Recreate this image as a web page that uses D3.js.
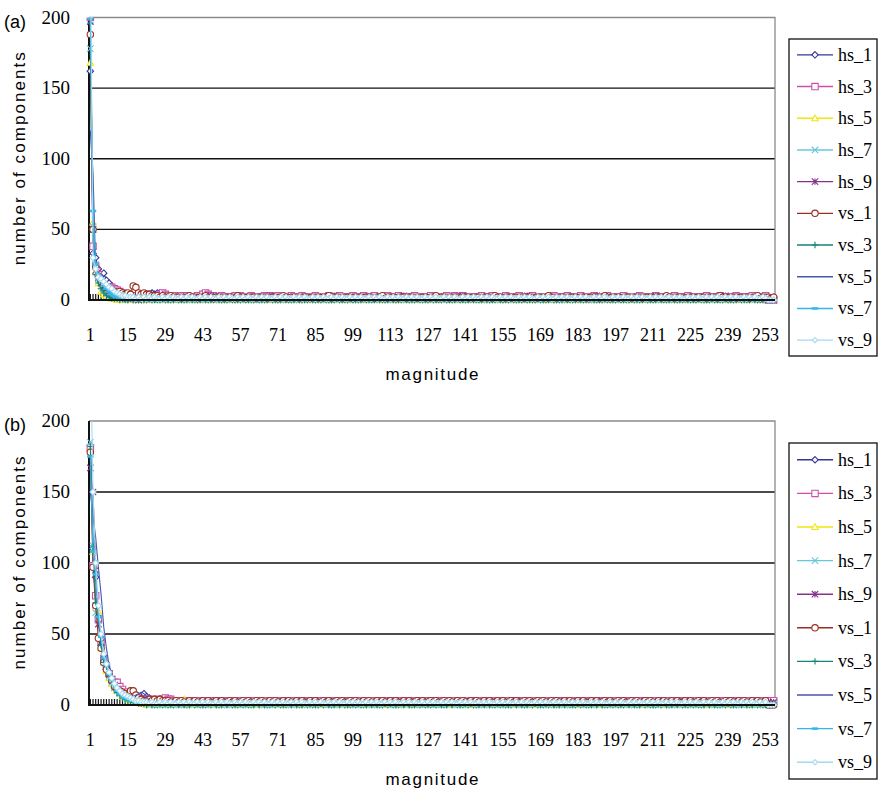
<!DOCTYPE html>
<html>
<head>
<meta charset="utf-8">
<script src="https://cdn.jsdelivr.net/npm/d3@7"></script>
<style>
body { margin: 0; background: white; }
svg { display: block; }
.serif { font-family: "Liberation Serif", "DejaVu Serif", Times, serif; }
.sans { font-family: "Liberation Sans", Arial, sans-serif; }
</style>
</head>
<body>
<svg id="chart"></svg>
<script>
var W = 879;
var H = 795;

// categories on the x axis (magnitude 1..256) and the labelled ones
var magnitudes = d3.range(1, 257);
var xTickLabels = [1, 15, 29, 43, 57, 71, 85, 99, 113, 127, 141, 155, 169, 183, 197, 211, 225, 239, 253];
var yTicks = [0, 50, 100, 150, 200];

var seriesNames = ["hs_1", "hs_3", "hs_5", "hs_7", "hs_9", "vs_1", "vs_3", "vs_5", "vs_7", "vs_9"];
var seriesColors = ["#34349a", "#cc4fae", "#f0e612", "#66c8dc", "#86328a", "#9a2e22", "#138577", "#4656ae", "#30b8ec", "#a4daee"];
var seriesMarkers = ["diamond", "square", "triangle", "x", "star", "circle", "plus", "none", "dash", "diamond"];

// panel (a): counts for magnitude 1..20, then one digit per magnitude from 21 on
var a_hs_1 = [162, 33, 30, 22, 17, 19, 14, 12, 10, 8, 7, 6, 5, 4, 3, 3, 2, 2, 2, 1];
var a_hs_3 = [200, 38, 24, 18, 13, 10, 8, 9, 9, 8, 7, 6, 5, 4, 4, 3, 3, 3, 2, 2];
var a_hs_5 = [168, 55, 20, 12, 6, 4, 3, 2, 1, 1, 0, 1, 0, 0, 1, 0, 0, 0, 1, 0];
var a_hs_7 = [178, 52, 25, 15, 10, 7, 5, 3, 2, 2, 1, 1, 1, 0, 1, 0, 1, 0, 0, 1];
var a_hs_9 = [197, 50, 21, 16, 12, 9, 8, 6, 5, 4, 3, 2, 2, 1, 1, 2, 1, 1, 0, 1];
var a_vs_1 = [188, 50, 23, 17, 13, 11, 9, 8, 7, 6, 5, 6, 5, 4, 5, 4, 10, 9, 5, 4];
var a_vs_3 = [196, 48, 18, 12, 8, 5, 3, 2, 1, 1, 1, 0, 1, 0, 0, 1, 0, 0, 0, 0];
var a_vs_5 = [120, 90, 22, 17, 14, 12, 10, 8, 6, 5, 4, 3, 2, 2, 1, 2, 1, 1, 2, 1];
var a_vs_7 = [199, 63, 25, 18, 14, 10, 8, 6, 4, 3, 2, 1, 1, 1, 0, 1, 0, 1, 0, 0];
var a_vs_9 = [260, 30, 22, 16, 15, 13, 11, 9, 8, 6, 5, 4, 3, 3, 2, 2, 2, 1, 2, 1];

var a_hs_1_tail = "34454554433232222121221212212122121221112212122131221212212122121221212211122122121221212212122121121212212122121221312212122121221212212122121221211212122121221212212122121221213122121221212212122121221212212122121221212212122121221212";
var a_hs_3_tail = "34323345432232323222324543322322223132213222132312322213212321223122132123122132213221312223212312222312122312122312322312222131223122132122312223121212231221322123122232122312122312121321222312222132122312222132122312222321222312223";
var a_hs_5_tail = "01000010000100001001000001000010000100000001000010000100001000010000100001000010010000100001000010000100001000010000100001000010000100001000010000100001000010000100001000010000100001000010000100001000010000100001000010000100001000";
var a_hs_7_tail = "10010010001001000100100010010001001000100100010010001001000100100010010001001000100100010010001001000100100010010001001000100100010010001001000100100010010001001000100100010010001001000100100010010001001000100100010010001001001001001";
var a_hs_9_tail = "32212121121211121212111213111212111212111212111312111212111212111212111312111212111212111212111213111212111212111212111312111212111212111212111312111212111212111212111213111212111212111212111312111212111212111212111213111212121121212";
var a_vs_1_tail = "54433323223222122322122322122212221322122212221222123212221222122212231222122212221222122312221222122212221223122212221222122212221322122212221222122213221222122212221222123212221222122212221222132212221222122212221322122212221223122212";
var a_vs_3_tail = "00100001000010000100001000010000100001000010000100001000010000100001000010000100001000010000100001000010000100001000010000100001000010000100001000010000100001000010000100001000010000100001000010000100001000010000100001000010000100001";
var a_vs_5_tail = "22112110111011011101101110110111011011101101110110111011011101101110110111011011101101110110111011011101101110110111011011101101110110111011011101101110110111011011101101110110111011011101101110110111011011101101110110111011011101101";
var a_vs_7_tail = "10100101001010010100101001010010100101001010010100101001010010100101001010010100101001010010100101001010010100101001010010100101001010010100101001010010100101001010010100101001010010100101001010010100101001010010100101001010010100101";
var a_vs_9_tail = "21212112121211212121121212112121211212121121212112121211212121121212112121211212121121212112121211212121121212112121211212121121212112121211212121121212112121211212121121212112121211212121121212112121211212121121212112121211212121121";

// panel (b)
var b_hs_1 = [183, 110, 90, 62, 42, 31, 25, 20, 16, 13, 10, 9, 8, 7, 6, 5, 5, 4, 4, 3];
var b_hs_3 = [181, 98, 77, 60, 45, 32, 27, 22, 18, 16, 16, 13, 11, 9, 8, 6, 5, 5, 4, 4];
var b_hs_5 = [180, 108, 70, 66, 40, 30, 24, 19, 15, 12, 10, 8, 6, 5, 4, 3, 3, 2, 2, 1];
var b_hs_7 = [185, 112, 65, 60, 42, 32, 26, 20, 16, 12, 10, 8, 6, 5, 4, 3, 3, 2, 2, 2];
var b_hs_9 = [167, 150, 95, 57, 44, 33, 28, 22, 18, 14, 11, 9, 8, 7, 6, 5, 4, 4, 3, 3];
var b_vs_1 = [178, 97, 70, 47, 40, 30, 25, 22, 17, 13, 11, 10, 9, 8, 7, 10, 10, 7, 5, 4];
var b_vs_3 = [182, 112, 72, 63, 42, 30, 27, 21, 16, 12, 9, 7, 5, 4, 3, 3, 2, 2, 1, 1];
var b_vs_5 = [150, 133, 118, 97, 78, 55, 40, 28, 22, 16, 12, 10, 9, 8, 7, 6, 6, 7, 8, 9];
var b_vs_7 = [175, 108, 92, 62, 48, 33, 28, 22, 18, 14, 10, 8, 6, 5, 4, 3, 3, 2, 2, 1];
var b_vs_9 = [260, 150, 100, 70, 50, 36, 29, 23, 19, 15, 12, 10, 8, 7, 6, 5, 4, 3, 3, 2];

var b_hs_1_tail = "86544344434333233232322322323232232232323223223232322322323232232232323223223232322322323232232232323223223232322322323232232232323223223232322322323232232232323223223232322322323232232232323223223232322322323232232232323223223232322323223";
var b_hs_3_tail = "34433434544333323323313332313332313233323312333231323332313233323312333233323132333233323133323332313233323332313233323312333233323132333233323312333233323132333233323312333233323132333233323312333233323132333233323312333233323132333233323";
var b_hs_5_tail = "10100101001010040100101001010010100101001010010100101001010010100101001010010100101001010010100101001010010100101001010010100101001010010100101001010010100101001010010100101001010010100101001010010100101001010010100101001010010100101";
var b_hs_7_tail = "11010010010100100101001001010010010100100101001001010010010100100101001001010010010100100101001001010010010100100101001001010010010100100101001001010010010100100101001001010010010100100101001001010010010100100101001001010010010100100101";
var b_hs_9_tail = "43323222322222122212221222132212221222122213221222122212221322122212221222132212221222122213221222122212221322122212221222132212221222122213221222122212221322122212221222132212221222122213221222122212221322122212221222132212221222122212";
var b_vs_1_tail = "33434343332232322323223232232322323223232232322323223232232322323223232232322323223232232322323223232232322323223232232322323223232232322323223232232322323223232232322323223232232322323223232232322323223232232322323223232232322323223";
var b_vs_3_tail = "10100010100010100010100010100010100010100010100010100010100010100010100010100010100010100010100010100010100010100010100010100010100010100010100010100010100010100010100010100010100010100010100010100010100010100010100010100010100010100";
var b_vs_5_tail = "86322322221212121121212112121211212121121212112121211212121121212112121211212121121212112121211212121121212112121211212121121212112121211212121121212112121211212121121212112121211212121121212112121211212121121212112121211212121121212";
var b_vs_7_tail = "11010100110101001101010011010100110101001101010011010100110101001101010011010100110101001101010011010100110101001101010011010100110101001101010011010100110101001101010011010100110101001101010011010100110101001101010011010100110101001101";
var b_vs_9_tail = "22121121212112121211212121121212112121211212121121212112121211212121121212112121211212121121212112121211212121121212112121211212121121212112121211212121121212112121211212121121212112121211212121121212112121211212121121212112121211212";

function buildSeries(head, tail) {
  var vals = head.concat(tail.split("").map(Number));
  return magnitudes.map(function (m, i) {
    return {m: m, v: i < vals.length ? vals[i] : 0};
  });
}

var panels = [
  {label: "(a)", top: 17.5, bottom: 300, legTop: 39, legH: 317,
   heads: [a_hs_1, a_hs_3, a_hs_5, a_hs_7, a_hs_9, a_vs_1, a_vs_3, a_vs_5, a_vs_7, a_vs_9],
   tails: [a_hs_1_tail, a_hs_3_tail, a_hs_5_tail, a_hs_7_tail, a_hs_9_tail, a_vs_1_tail, a_vs_3_tail, a_vs_5_tail, a_vs_7_tail, a_vs_9_tail]},
  {label: "(b)", top: 421, bottom: 705, legTop: 443, legH: 336,
   heads: [b_hs_1, b_hs_3, b_hs_5, b_hs_7, b_hs_9, b_vs_1, b_vs_3, b_vs_5, b_vs_7, b_vs_9],
   tails: [b_hs_1_tail, b_hs_3_tail, b_hs_5_tail, b_hs_7_tail, b_hs_9_tail, b_vs_1_tail, b_vs_3_tail, b_vs_5_tail, b_vs_7_tail, b_vs_9_tail]}
];

var plotL = 89, plotR = 775;

var svg = d3.select("#chart")
  .attr("width", W)
  .attr("height", H);

svg.append("rect")
  .attr("width", "100%")
  .attr("height", "100%")
  .attr("fill", "white");

function markerPath(type, s) {
  if (type == "diamond") return "M0," + (-s) + "L" + s + ",0L0," + s + "L" + (-s) + ",0Z";
  if (type == "square") return "M" + (-s) + "," + (-s) + "H" + s + "V" + s + "H" + (-s) + "Z";
  if (type == "triangle") return "M0," + (-s) + "L" + s + "," + (s * 0.8) + "H" + (-s) + "Z";
  if (type == "x") return "M" + (-s) + "," + (-s) + "L" + s + "," + s + "M" + (-s) + "," + s + "L" + s + "," + (-s);
  if (type == "star") return "M" + (-s) + "," + (-s) + "L" + s + "," + s + "M" + (-s) + "," + s + "L" + s + "," + (-s) + "M0," + (-s) + "V" + s;
  if (type == "circle") return "M" + s + ",0A" + s + "," + s + " 0 1,1 " + (-s) + ",0A" + s + "," + s + " 0 1,1 " + s + ",0Z";
  if (type == "plus") return "M" + (-s) + ",0H" + s + "M0," + (-s) + "V" + s;
  if (type == "dash") return "M" + (-s) + ",0H" + s;
  return "";
}

function drawMarker(g, type, color, s) {
  if (type == "none") return;
  g.append("path")
    .attr("d", markerPath(type, s))
    .attr("fill", (type == "x" || type == "star" || type == "plus" || type == "dash") ? "none" : "white")
    .attr("stroke", color)
    .attr("stroke-width", type == "dash" ? 2.5 : 1.1);
}

var x = d3.scaleBand()
  .domain(magnitudes)
  .range([plotL, plotR])
  .padding(0);

var cx = function (m) { return x(m) + x.bandwidth() / 2; };

panels.forEach(function (p, pi) {
  var y = d3.scaleLinear()
    .domain([0, 200])
    .range([p.bottom, p.top]);

  var g = svg.append("g");

  var clipId = "clip" + pi;
  svg.append("clipPath").attr("id", clipId)
    .append("rect")
    .attr("x", plotL - 4).attr("y", p.top)
    .attr("width", plotR - plotL + 8).attr("height", p.bottom - p.top + 5);

  // gridlines
  g.selectAll(".grid")
    .data([50, 100, 150])
    .enter().append("line")
    .attr("x1", plotL).attr("x2", plotR)
    .attr("y1", d => y(d)).attr("y2", d => y(d))
    .attr("stroke", "#111")
    .attr("stroke-width", 1.3);

  // plot area border (grey) top and right
  g.append("path")
    .attr("d", "M" + plotL + "," + y(200) + "H" + plotR + "V" + y(0))
    .attr("fill", "none")
    .attr("stroke", "#8a8a8a")
    .attr("stroke-width", 1.3);

  // category ticks pointing inward
  g.append("g")
    .attr("transform", "translate(0," + y(0) + ")")
    .call(d3.axisTop(x).tickSize(6).tickFormat(""))
    .call(a => a.select(".domain").remove())
    .call(a => a.selectAll("line").attr("stroke", "#111").attr("stroke-width", 1.2));

  g.append("line")
    .attr("x1", plotL).attr("x2", plotL)
    .attr("y1", y(200)).attr("y2", y(0) + 1)
    .attr("stroke", "#111").attr("stroke-width", 2);

  // series
  var lineGen = d3.line()
    .x(d => cx(d.m))
    .y(d => y(d.v));

  var sg = g.append("g").attr("clip-path", "url(#" + clipId + ")");
  seriesNames.forEach(function (name, si) {
    var data = buildSeries(p.heads[si], p.tails[si]);
    var color = seriesColors[si];
    sg.append("path")
      .datum(data)
      .attr("fill", "none")
      .attr("stroke", color)
      .attr("stroke-width", 1.1)
      .attr("d", lineGen);
    var size = si == 9 ? 3 : 3.2;
    data.forEach(function (d) {
      var mg = sg.append("g").attr("transform", "translate(" + cx(d.m) + "," + y(d.v) + ")");
      drawMarker(mg, seriesMarkers[si], color, size);
    });
  });

  g.append("line")
    .attr("x1", plotL - 1).attr("x2", plotR)
    .attr("y1", y(0)).attr("y2", y(0))
    .attr("stroke", "#111").attr("stroke-width", 2);

  // y tick labels
  g.selectAll(".ylab")
    .data(yTicks)
    .enter().append("text")
    .attr("class", "serif")
    .attr("x", 70)
    .attr("y", d => y(d) + 6)
    .attr("text-anchor", "end")
    .style("font-size", "19px")
    .text(d => d);

  // x tick labels
  g.selectAll(".xlab")
    .data(xTickLabels)
    .enter().append("text")
    .attr("class", "serif")
    .attr("x", d => cx(d))
    .attr("y", p.bottom + 41)
    .attr("text-anchor", "middle")
    .style("font-size", "18px")
    .text(d => d);

  g.append("text")
    .attr("class", "sans")
    .attr("transform", "translate(25," + ((p.top + p.bottom) / 2) + ") rotate(-90)")
    .attr("text-anchor", "middle")
    .attr("textLength", 213)
    .attr("lengthAdjust", "spacing")
    .style("font-size", "17px")
    .text("number of components");

  g.append("text")
    .attr("class", "sans")
    .attr("x", (plotL + plotR) / 2)
    .attr("y", p.bottom + 80)
    .attr("text-anchor", "middle")
    .attr("textLength", 93)
    .attr("lengthAdjust", "spacing")
    .style("font-size", "17px")
    .text("magnitude");

  g.append("text")
    .attr("class", "sans")
    .attr("x", 4)
    .attr("y", p.top + 10)
    .style("font-size", "18px")
    .text(p.label);

  // legend
  var leg = g.append("g");
  leg.append("rect")
    .attr("x", 789).attr("y", p.legTop)
    .attr("width", 88).attr("height", p.legH)
    .attr("fill", "white")
    .attr("stroke", "#222")
    .attr("stroke-width", 1.4);

  var step = p.legH / seriesNames.length;
  seriesNames.forEach(function (name, si) {
    var ly = p.legTop + step * (si + 0.5);
    var color = seriesColors[si];
    leg.append("line")
      .attr("x1", 797).attr("x2", 833)
      .attr("y1", ly).attr("y2", ly)
      .attr("stroke", color)
      .attr("stroke-width", 1.4);
    var mg = leg.append("g").attr("transform", "translate(815," + ly + ")");
    drawMarker(mg, seriesMarkers[si], color, si == 9 ? 2.6 : 3.2);
    leg.append("text")
      .attr("class", "serif")
      .attr("x", 838)
      .attr("y", ly + 6)
      .style("font-size", "18px")
      .text(name);
  });
});
</script>
</body>
</html>
